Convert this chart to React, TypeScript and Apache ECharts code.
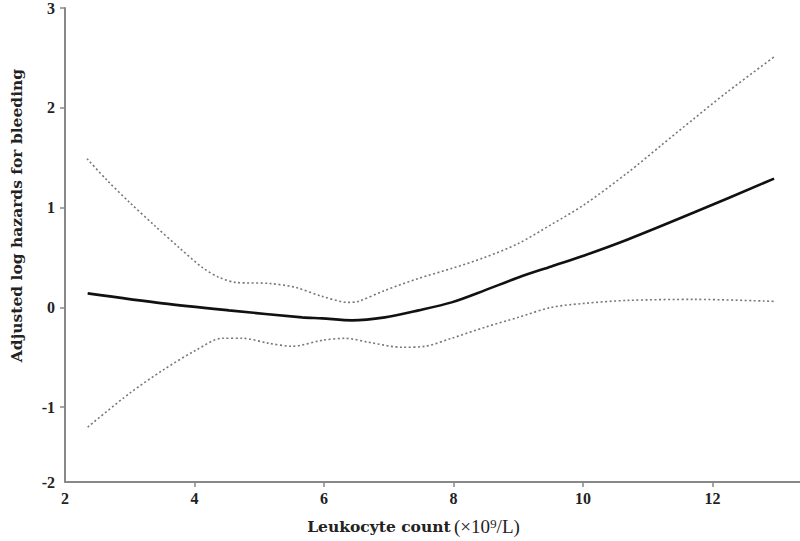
import React, { useEffect, useRef } from "react";
import * as echarts from "echarts";

const fitX = [2.35, 3.51, 4.53, 5.66, 5.97, 6.43, 6.94, 7.46, 7.97, 8.48, 9.0, 9.51, 10.02, 10.69, 11.71, 12.95];
const fitY = [0.14, 0.04, -0.03, -0.10, -0.11, -0.13, -0.10, -0.03, 0.05, 0.17, 0.30, 0.41, 0.52, 0.68, 0.95, 1.29];

const upperX = [2.34, 2.64, 3.0, 3.4, 3.76, 4.12, 4.38, 4.64, 5.15, 5.56, 5.97, 6.38, 6.53, 6.94, 7.46, 7.97, 8.48, 9.0, 9.51, 10.02, 10.69, 11.2, 11.71, 12.23, 12.95];
const upperY = [1.49, 1.28, 1.05, 0.81, 0.6, 0.4, 0.3, 0.25, 0.24, 0.2, 0.11, 0.05, 0.06, 0.17, 0.29, 0.39, 0.5, 0.64, 0.83, 1.03, 1.35, 1.62, 1.89, 2.16, 2.51];

const lowerX = [2.35, 3.0, 3.51, 4.02, 4.43, 4.74, 5.15, 5.51, 5.97, 6.33, 6.69, 7.2, 7.56, 7.97, 8.48, 9.0, 9.51, 10.02, 10.69, 11.71, 12.95];
const lowerY = [-1.2, -0.86, -0.63, -0.43, -0.31, -0.31, -0.36, -0.39, -0.33, -0.31, -0.35, -0.4, -0.39, -0.31, -0.2, -0.1, 0.0, 0.04, 0.07, 0.08, 0.06];

const xTickValues = [4, 6, 8, 10, 12];
const xLabelValues = [2, 4, 6, 8, 10, 12];
const yTickValues = [-1, 0, 1, 2, 3];
const yLabelValues = [-1.75, -1, 0, 1, 2, 3];

const pairs = (xs: number[], ys: number[]) => xs.map((x, i) => [x, ys[i]]);

const font = "'Liberation Serif', 'Times New Roman', serif";
const nameFont = "'DejaVu Serif', serif";

export default function App() {
  const ref = useRef<HTMLDivElement>(null);
  useEffect(() => {
    if (!ref.current) return;
    const chart = echarts.init(ref.current, undefined, { renderer: "svg" });
    const labelStyle = { fontFamily: font, fontWeight: "bold" as const, fontSize: 16, color: "#222" };
    chart.setOption({
      animation: false,
      backgroundColor: "#fff",
      grid: { left: 62, top: 6, right: 0, bottom: 58 },
      xAxis: {
        type: "value",
        min: 2,
        max: 13.35,
        splitLine: { show: false },
        axisLine: { onZero: false, lineStyle: { color: "#888", width: 2 } },
        axisTick: { customValues: xTickValues, length: 5, lineStyle: { color: "#888", width: 1.5 } },
        axisLabel: { customValues: xLabelValues, margin: 8, ...labelStyle },
        name: "{b|Leukocyte count} {n|(×10⁹/L)}",
        nameLocation: "middle",
        nameGap: 35,
        nameTextStyle: {
          padding: [0, 38, 0, 0],
          rich: {
            b: { fontFamily: nameFont, fontWeight: "bold", fontSize: 15.5, color: "#222" },
            n: { fontFamily: font, fontSize: 19, color: "#222" },
          },
        },
      },
      yAxis: {
        type: "value",
        min: -1.75,
        max: 3,
        splitLine: { show: false },
        axisLine: { onZero: false, lineStyle: { color: "#888", width: 2 } },
        axisTick: { customValues: yTickValues, length: 5, lineStyle: { color: "#888", width: 1.5 } },
        axisLabel: {
          customValues: yLabelValues,
          margin: 10,
          formatter: (v: number) => (v < -1.5 ? "-2" : String(v)),
          ...labelStyle,
        },
        name: "Adjusted log hazards for bleeding",
        nameLocation: "middle",
        nameGap: 41,
        nameTextStyle: {
          fontFamily: nameFont,
          fontWeight: "bold",
          fontSize: 15.5,
          color: "#222",
          padding: [0, 0, 0, 59],
        },
      },
      series: [
        {
          type: "line",
          data: pairs(upperX, upperY),
          smooth: 0.3,
          showSymbol: false,
          lineStyle: { color: "#777", width: 1.6, type: [2, 2.5] },
        },
        {
          type: "line",
          data: pairs(lowerX, lowerY),
          smooth: 0.3,
          showSymbol: false,
          lineStyle: { color: "#777", width: 1.6, type: [2, 2.5] },
        },
        {
          type: "line",
          data: pairs(fitX, fitY),
          smooth: 0.3,
          showSymbol: false,
          lineStyle: { color: "#111", width: 2.6 },
        },
      ],
    });
    return () => chart.dispose();
  }, []);
  return <div ref={ref} style={{ width: 800, height: 541, position: "absolute", left: 0, top: 0 }} />;
}
